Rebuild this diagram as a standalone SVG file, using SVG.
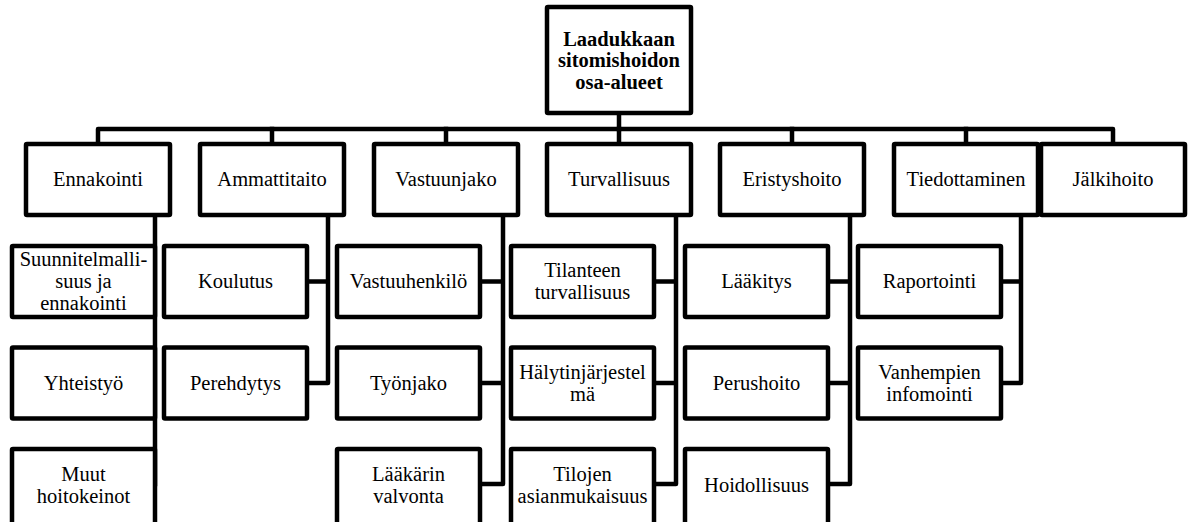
<svg xmlns="http://www.w3.org/2000/svg" width="1192" height="522" viewBox="0 0 1192 522">
  <style>
    .box { fill: #ffffff; stroke: #000000; stroke-width: 4.5; stroke-linejoin: round; }
    .wire { fill: none; stroke: #000000; stroke-width: 4.5; stroke-linejoin: round; stroke-linecap: square; }
    .lbl { font-family: 'Liberation Serif', 'DejaVu Serif', serif; font-size: 20.5px; fill: #000000; text-anchor: middle; }
    .title { font-weight: bold; font-size: 20.5px; }
  </style>
  <rect width="1192" height="522" fill="#ffffff"/>

  <!-- connectors: main bus and the vertical spines for each branch -->
  <g id="connectors">
    <path class="wire" d="M619 115 V129"/>
    <path class="wire" d="M98 142 V129 H1113 V142"/>
    <path class="wire" d="M272 129 V142 M446 129 V142 M619 129 V142 M792 129 V142 M966 129 V142"/>
    <!-- Ennakointi -->
    <path class="wire" d="M155 217 V484"/>
    <!-- Ammattitaito -->
    <path class="wire" d="M328 217 V383 H307 M307 281.5 H328"/>
    <!-- Vastuunjako -->
    <path class="wire" d="M503 217 V484 H480 M480 281.5 H503 M480 383 H503"/>
    <!-- Turvallisuus -->
    <path class="wire" d="M676 217 V484 H654 M654 281.5 H676 M654 383 H676"/>
    <!-- Eristyshoito -->
    <path class="wire" d="M850 217 V484 H828 M828 281.5 H850 M828 383 H850"/>
    <!-- Tiedottaminen -->
    <path class="wire" d="M1021 217 V383 H1001 M1001 281.5 H1021"/>
  </g>

  <g id="root" class="lbl" font-family="Liberation Serif, serif">
    <rect class="box" x="547" y="7" width="144" height="106" rx="1"/>
    <text class="title" x="619" y="45.5">Laadukkaan</text>
    <text class="title" x="619" y="67">sitomishoidon</text>
    <text class="title" x="619" y="88.5">osa-alueet</text>
  </g>

  <!-- first level -->
  <g id="ennakointi" class="lbl">
    <rect class="box" x="26" y="144" width="144" height="71" rx="1"/>
    <text x="98" y="186">Ennakointi</text>
  </g>
  <g id="ammattitaito" class="lbl">
    <rect class="box" x="200" y="144" width="144" height="71" rx="1"/>
    <text x="272" y="186">Ammattitaito</text>
  </g>
  <g id="vastuunjako" class="lbl">
    <rect class="box" x="374" y="144" width="144" height="71" rx="1"/>
    <text x="446" y="186">Vastuunjako</text>
  </g>
  <g id="turvallisuus" class="lbl">
    <rect class="box" x="547" y="144" width="144" height="71" rx="1"/>
    <text x="619" y="186">Turvallisuus</text>
  </g>
  <g id="eristyshoito" class="lbl">
    <rect class="box" x="720" y="144" width="144" height="71" rx="1"/>
    <text x="792" y="186">Eristyshoito</text>
  </g>
  <g id="tiedottaminen" class="lbl">
    <rect class="box" x="894" y="144" width="144" height="71" rx="1"/>
    <text x="966" y="186">Tiedottaminen</text>
  </g>
  <g id="jalkihoito" class="lbl">
    <rect class="box" x="1041" y="144" width="144" height="71" rx="1"/>
    <text x="1113" y="186">Jälkihoito</text>
  </g>

  <!-- Ennakointi children -->
  <g id="suunnitelmallisuus" class="lbl">
    <rect class="box" x="12" y="246" width="143" height="71" rx="1"/>
    <text x="83.5" y="266">Suunnitelmalli-</text>
    <text x="83.5" y="288">suus ja</text>
    <text x="83.5" y="310">ennakointi</text>
  </g>
  <g id="yhteistyo" class="lbl">
    <rect class="box" x="12" y="347.5" width="143" height="71" rx="1"/>
    <text x="83.5" y="389.5">Yhteistyö</text>
  </g>
  <g id="muut-hoitokeinot" class="lbl">
    <rect class="box" x="12" y="449" width="143" height="77" rx="1"/>
    <text x="83.5" y="481">Muut</text>
    <text x="83.5" y="503">hoitokeinot</text>
  </g>

  <!-- Ammattitaito children -->
  <g id="koulutus" class="lbl">
    <rect class="box" x="164" y="246" width="143" height="71" rx="1"/>
    <text x="235.5" y="288">Koulutus</text>
  </g>
  <g id="perehdytys" class="lbl">
    <rect class="box" x="164" y="347.5" width="143" height="71" rx="1"/>
    <text x="235.5" y="389.5">Perehdytys</text>
  </g>

  <!-- Vastuunjako children -->
  <g id="vastuuhenkilo" class="lbl">
    <rect class="box" x="337" y="246" width="143" height="71" rx="1"/>
    <text x="408.5" y="288">Vastuuhenkilö</text>
  </g>
  <g id="tyonjako" class="lbl">
    <rect class="box" x="337" y="347.5" width="143" height="71" rx="1"/>
    <text x="408.5" y="389.5">Työnjako</text>
  </g>
  <g id="laakarin-valvonta" class="lbl">
    <rect class="box" x="337" y="449" width="143" height="77" rx="1"/>
    <text x="408.5" y="481">Lääkärin</text>
    <text x="408.5" y="503">valvonta</text>
  </g>

  <!-- Turvallisuus children -->
  <g id="tilanteen-turvallisuus" class="lbl">
    <rect class="box" x="511" y="246" width="143" height="71" rx="1"/>
    <text x="582.5" y="277">Tilanteen</text>
    <text x="582.5" y="299">turvallisuus</text>
  </g>
  <g id="halytinjarjestelma" class="lbl">
    <rect class="box" x="511" y="347.5" width="143" height="71" rx="1"/>
    <text x="582.5" y="378.5">Hälytinjärjestel</text>
    <text x="582.5" y="400.5">mä</text>
  </g>
  <g id="tilojen-asianmukaisuus" class="lbl">
    <rect class="box" x="511" y="449" width="143" height="77" rx="1"/>
    <text x="582.5" y="481">Tilojen</text>
    <text x="582.5" y="503">asianmukaisuus</text>
  </g>

  <!-- Eristyshoito children -->
  <g id="laakitys" class="lbl">
    <rect class="box" x="685" y="246" width="143" height="71" rx="1"/>
    <text x="756.5" y="288">Lääkitys</text>
  </g>
  <g id="perushoito" class="lbl">
    <rect class="box" x="685" y="347.5" width="143" height="71" rx="1"/>
    <text x="756.5" y="389.5">Perushoito</text>
  </g>
  <g id="hoidollisuus" class="lbl">
    <rect class="box" x="685" y="449" width="143" height="77" rx="1"/>
    <text x="756.5" y="492">Hoidollisuus</text>
  </g>

  <!-- Tiedottaminen children -->
  <g id="raportointi" class="lbl">
    <rect class="box" x="858" y="246" width="143" height="71" rx="1"/>
    <text x="929.5" y="288">Raportointi</text>
  </g>
  <g id="vanhempien-infomointi" class="lbl">
    <rect class="box" x="858" y="347.5" width="143" height="71" rx="1"/>
    <text x="929.5" y="378.5">Vanhempien</text>
    <text x="929.5" y="400.5">infomointi</text>
  </g>
</svg>
